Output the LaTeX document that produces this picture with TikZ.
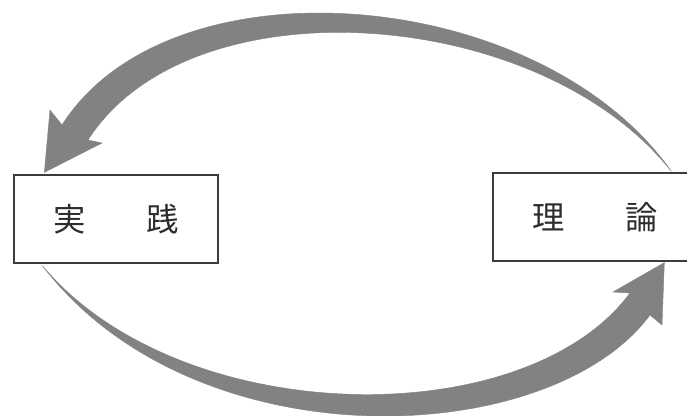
\documentclass[tikz,border=0pt]{standalone}
\usepackage{fontspec}
\usepackage{tikz}
\usetikzlibrary{calc}
\newfontfamily\jpfont{Noto Sans CJK JP}
\definecolor{boxline}{RGB}{60,60,60}
\definecolor{bandgray}{RGB}{130,130,130}
\definecolor{textgray}{RGB}{45,45,45}

\begin{document}
\begin{tikzpicture}[
        x=0.025cm, y=-0.025cm,
        panel/.style={rectangle, draw=boxline, fill=white, line width=0.9pt,
                      minimum width=5.1cm, minimum height=2.2cm, inner sep=0pt,
                      text=textgray, font=\jpfont\fontsize{23}{27}\selectfont},
        band/.style={fill=bandgray, draw=bandgray, line width=0.3pt, line join=miter}
      ]
        \clip (0,0) rectangle (687,416);
        % Nodes — manually placed
        \node[panel] (jissen) at (116, 219) {実\hspace{1.52cm}践};
        \node[panel] (riron)  at (595, 217) {理\hspace{1.52cm}論};
        % End points on the boxes
        \coordinate (tailA) at ($(riron.north west)+(179,-1)$);
        \coordinate (tipA)  at ($(jissen.north west)+(31,-2)$);
        \coordinate (tailB) at ($(jissen.south west)+(29,2)$);
        \coordinate (tipB)  at ($(riron.south west)+(172,1)$);
        % Upper arrow: theory to practice
        \fill[band] (tailA) .. controls (540,-15) and (170,-45) .. (62,125)
          -- (50,110) -- (tipA) -- (102,143) -- (88,140)
          .. controls (190,-20) and (540,5) .. (tailA) -- cycle;
        % Lower arrow: practice to theory
        \fill[band] (tailB) .. controls (180,430) and (525,435) .. (630,293)
          -- (613,292) -- (tipB) -- (662,325) -- (650,315)
          .. controls (550,450) and (195,465) .. (tailB) -- cycle;
      \end{tikzpicture}
\end{document}
